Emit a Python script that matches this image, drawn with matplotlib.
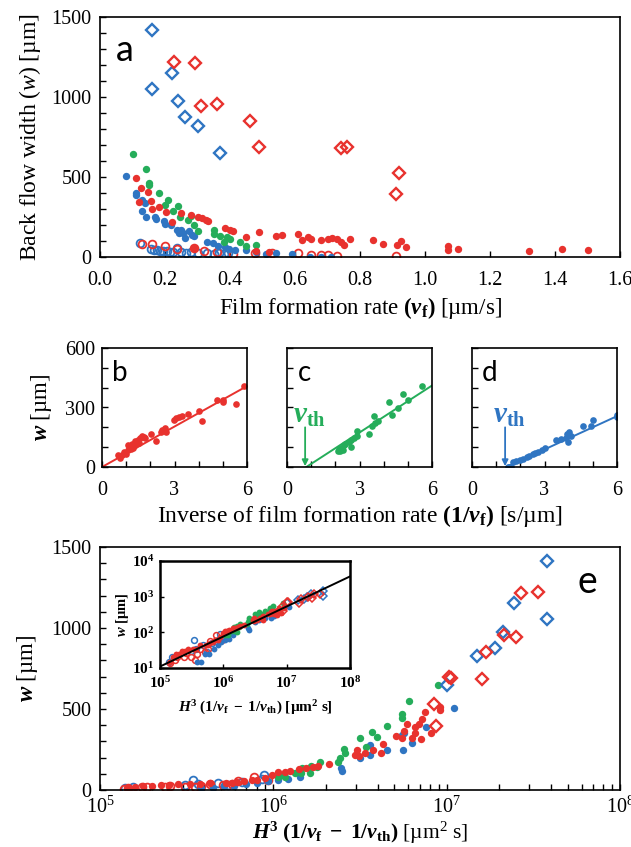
import numpy as np
import matplotlib
matplotlib.use('Agg')
import matplotlib.pyplot as plt
from matplotlib.ticker import MultipleLocator, FixedLocator, LogLocator, NullFormatter, FuncFormatter, NullLocator

plt.rcParams['font.family'] = ['Liberation Serif', 'DejaVu Serif']
plt.rcParams['mathtext.fontset'] = 'custom'
plt.rcParams['mathtext.rm'] = 'Liberation Serif'
plt.rcParams['mathtext.it'] = 'Liberation Serif:italic'
plt.rcParams['mathtext.bf'] = 'Liberation Serif:bold'
plt.rcParams['mathtext.bfit'] = 'Liberation Serif:italic:bold'

RED = '#E8322E'
BLUE = '#2F75C2'
GREEN = '#25AD5A'

# ---------------- Panel a data: film formation rate vf [um/s], width w [um]
a_blue_fill_vf = [0.081, 0.11, 0.11, 0.128, 0.13, 0.137, 0.14, 0.17, 0.172, 0.198, 0.20, 0.218, 0.236, 0.244,
                  0.25, 0.255, 0.26, 0.273, 0.282, 0.29, 0.33, 0.348, 0.364, 0.385, 0.397, 0.416, 0.45, 0.48,
                  0.51, 0.54, 0.59, 0.646, 0.68, 0.71]
a_blue_fill_w = [506, 402, 385, 354, 288, 340, 250, 250, 235, 223, 204, 202, 171, 152,
                 171, 152, 121, 160, 135, 133, 94, 85, 69, 60, 52, 46, 42, 29,
                 21, 23, 21, 0, 0, 0]
a_red_fill_vf = [0.11, 0.127, 0.12, 0.148, 0.158, 0.16, 0.18, 0.203, 0.22, 0.25, 0.28, 0.30, 0.315, 0.325,
                 0.333, 0.385, 0.40, 0.41, 0.45, 0.49, 0.54, 0.56, 0.61, 0.62, 0.64, 0.65, 0.68, 0.70,
                 0.715, 0.73, 0.74, 0.75, 0.77, 0.84, 0.87, 0.913, 0.925, 0.94, 1.07, 1.07, 1.10, 1.32,
                 1.42, 1.50, 0.29, 0.48, 0.52]
a_red_fill_w = [494, 431, 342, 406, 350, 302, 312, 279, 221, 275, 265, 250, 246, 231,
                223, 181, 167, 162, 123, 156, 133, 140, 146, 108, 125, 115, 108, 115,
                117, 113, 96, 77, 110, 104, 83, 77, 100, 62, 69, 46, 50, 37,
                48, 42, 54, 35, 30]
a_green_fill_vf = [0.10, 0.14, 0.15, 0.15, 0.18, 0.20, 0.21, 0.224, 0.24, 0.245, 0.27, 0.28, 0.29, 0.30,
                   0.35, 0.35, 0.37, 0.38, 0.39, 0.40, 0.43, 0.45, 0.48]
a_green_fill_w = [644, 548, 462, 448, 400, 323, 358, 288, 317, 250, 229, 254, 202, 163,
                  171, 146, 131, 94, 125, 113, 96, 69, 73]
a_blue_open_vf = [0.123, 0.157, 0.165, 0.175, 0.185, 0.195, 0.205, 0.215, 0.225, 0.237, 0.25, 0.265, 0.28,
                  0.30, 0.33, 0.35, 0.365, 0.38, 0.395]
a_blue_open_w = [85, 52, 45, 42, 40, 38, 35, 33, 30, 58, 30, 28, 32, 28, 25, 20, 22, 18, 25]
a_red_open_vf = [0.128, 0.16, 0.20, 0.236, 0.29, 0.32, 0.36, 0.41, 0.476, 0.53, 0.61, 0.65, 0.68, 0.70,
                 0.73, 0.91]
a_red_open_w = [81, 81, 67, 52, 58, 37, 31, 21, 27, 25, 25, 15, 15, 13, 8, 8]
a_blue_dia_vf = [0.159, 0.159, 0.22, 0.24, 0.26, 0.30, 0.37]
a_blue_dia_w = [1417, 1050, 1152, 973, 875, 821, 650]
a_red_dia_vf = [0.229, 0.291, 0.311, 0.36, 0.46, 0.49, 0.74, 0.76, 0.92, 0.91]
a_red_dia_w = [1221, 1215, 942, 956, 850, 688, 681, 690, 525, 392]

# ---------------- Panels b-d data: inverse film formation rate 1/vf [s/um], w [um]
b_inv = [0.67, 0.74, 0.81, 0.93, 0.98, 1.07, 1.09, 1.16, 1.21, 1.26, 1.30, 1.35, 1.37, 1.44, 1.49, 1.54,
         1.58, 1.65, 1.72, 1.79, 2.01, 2.22, 2.43, 2.50, 2.61, 2.64, 2.99, 3.06, 3.17, 3.31, 3.55, 4.01,
         4.15, 4.74, 4.99, 5.02, 5.55, 5.86]
b_w = [58, 46, 63, 76, 66, 112, 88, 104, 91, 116, 96, 129, 109, 126, 137, 121,
       145, 154, 149, 145, 165, 132, 175, 187, 195, 178, 235, 248, 253, 256, 269, 281,
       231, 340, 327, 336, 319, 410]
c_inv = [2.10, 2.18, 2.25, 2.35, 2.42, 2.56, 2.66, 2.63, 2.77, 2.89, 2.90, 3.38, 3.50, 3.59, 3.66, 3.75,
         4.20, 4.36, 4.58, 4.78, 5.01, 5.57, 2.14, 2.30]
c_w = [79, 83, 96, 109, 116, 126, 99, 137, 145, 154, 182, 165, 208, 256, 220, 233,
       327, 261, 299, 368, 336, 410, 90, 85]
d_inv = [1.48, 1.55, 1.62, 1.69, 1.84, 1.98, 2.12, 2.26, 2.37, 2.54, 2.61, 2.75, 2.90, 3.04, 3.46, 3.67,
         3.88, 3.95, 4.03, 4.10, 3.98, 4.59, 4.94, 5.01, 6.00, 6.00]
d_w = [0, 0, 0, 24, 29, 36, 39, 52, 57, 65, 73, 78, 85, 98, 138, 143,
       146, 166, 176, 154, 127, 208, 208, 236, 252, 260]
# fitted lines: w = slope * (1/vf - 1/vth)
fit_b_slope, fit_b_inv_th = 68.0, 0.0
fit_c_slope, fit_c_inv_th = 79.0, 0.80
fit_d_slope, fit_d_inv_th = 56.0, 1.42

# ---------------- Panel e data: H^3 (1/vf - 1/vth) [x1e6 um^2 s], w [um]
e_green_fill_x = [8.86, 6.09, 5.55, 5.55, 4.50, 3.70, 3.96, 3.17, 3.43, 2.55, 2.58, 2.44, 2.36, 1.85,
                  1.64, 1.62, 1.47, 1.33, 1.07, 1.12, 1.17, 1.45, 1.78]
e_green_fill_w = [648, 549, 470, 443, 397, 360, 327, 319, 267, 253, 226, 195, 175, 175,
                  150, 103, 137, 107, 82, 92, 82, 107, 144]
e_red_fill_x = [9.1, 9.1, 7.5, 7.2, 6.9, 6.6, 5.9, 5.7, 6.6, 6.3, 7.1, 8.1, 5.1, 5.5, 4.3, 4.2,
                3.75, 3.4, 3.05, 3.1, 2.95, 2.1, 1.8, 1.7, 1.55, 1.40, 1.25, 1.16, 1.07, 0.98, 0.90,
                0.81, 0.75, 0.68, 0.62, 0.58, 0.53, 0.43, 0.376, 0.33, 0.28, 0.25, 0.225, 0.20, 0.177,
                0.159, 0.145]
e_red_fill_w = [514, 494, 483, 436, 407, 391, 407, 366, 354, 319, 313, 350, 333, 319, 284, 226,
                245, 226, 245, 209, 215, 158, 150, 140, 133, 130, 120, 110, 110, 95, 75,
                62, 62, 55, 51, 45, 45, 45, 35, 35, 35, 30, 30, 25, 25,
                20, 15]
e_blue_fill_x = [11.0, 7.6, 5.7, 5.6, 6.3, 4.5, 3.6, 3.15, 2.45, 2.5, 1.43, 1.22, 1.07, 0.93, 0.81,
                 0.70, 0.59, 0.52, 0.45, 0.385, 5.5, 3.6]
e_blue_fill_w = [504, 391, 350, 247, 292, 247, 216, 200, 134, 120, 82, 66, 60, 55, 43,
                 35, 25, 25, 15, 15, 340, 280]
e_red_open_x = [0.138, 0.146, 0.174, 0.186, 0.237, 0.253, 0.309, 0.354, 0.383, 0.431, 0.515, 0.575,
                0.626, 0.936, 0.77]
e_red_open_w = [8, 14, 17, 21, 21, 27, 21, 17, 25, 35, 28, 35, 56, 60, 82]
e_blue_open_x = [0.14, 0.156, 0.346, 0.369, 0.55, 0.657, 0.857, 0.885, 0.477, 0.31]
e_blue_open_w = [15, 21, 62, 35, 28, 49, 66, 90, 45, 30]
e_blue_dia_x = [37.8, 37.8, 24.3, 21.2, 19.0, 14.9, 10.1]
e_blue_dia_w = [1413, 1055, 1152, 977, 874, 827, 648]
e_red_dia_x = [26.7, 33.8, 21.5, 25.1, 16.9, 15.9, 10.3, 10.6, 8.49, 8.69]
e_red_dia_w = [1217, 1220, 956, 942, 853, 683, 695, 690, 529, 395]
# inset power-law fit: w = coef * (X / 1e5) ** exponent
inset_fit_coef, inset_fit_exp = 11.0, 0.842

# ---------------- figure
W, H = 631, 847
fig = plt.figure(figsize=(W / 100, H / 100), dpi=100)


def rect(x0, y0, x1, y1):
    return [x0 / W, 1 - y1 / H, (x1 - x0) / W, (y1 - y0) / H]


def style_frame(ax, lw=1.2):
    for s in ax.spines.values():
        s.set_linewidth(lw)
        s.set_color('black')
    ax.tick_params(which='both', direction='in', top=False, right=False, width=1.0, colors='black')
    ax.tick_params(which='major', length=4)
    ax.tick_params(which='minor', length=4)


def filled(ax, x, y, c, ms=5.3):
    ax.plot(x, y, 'o', color=c, ms=ms, mec='none', ls='none')


def opened(ax, x, y, c, ms=5.6, mew=1.3):
    ax.plot(x, y, 'o', mfc='none', mec=c, ms=ms, mew=mew, ls='none')


def diamond(ax, x, y, c, ms=6.3, mew=1.7):
    ax.plot(x, y, 'D', mfc='none', mec=c, ms=ms, mew=mew, ls='none')


letter_font = dict(family=['Lato', 'DejaVu Sans'], color='black')

# ---- panel a
axa = fig.add_axes(rect(100, 17, 620, 257))
style_frame(axa)
opened(axa, a_blue_open_vf, a_blue_open_w, BLUE)
opened(axa, a_red_open_vf, a_red_open_w, RED)
filled(axa, a_blue_fill_vf, a_blue_fill_w, BLUE)
filled(axa, a_green_fill_vf, a_green_fill_w, GREEN)
filled(axa, a_red_fill_vf, a_red_fill_w, RED)
diamond(axa, a_blue_dia_vf, a_blue_dia_w, BLUE)
diamond(axa, a_red_dia_vf, a_red_dia_w, RED)
axa.set_xlim(0, 1.6)
axa.set_ylim(0, 1500)
axa.xaxis.set_major_locator(MultipleLocator(0.2))
axa.xaxis.set_major_formatter(FuncFormatter(lambda v, p: f'{v:.1f}'))
axa.yaxis.set_major_locator(MultipleLocator(500))
axa.yaxis.set_minor_locator(MultipleLocator(100))
axa.tick_params(labelsize=14.5)
axa.tick_params(axis='x', pad=10)
axa.tick_params(axis='y', pad=6)
axa.set_xlabel(r'$\mathrm{Film\ formation\ rate\ }\mathbf{(}\mathbfit{v}_{\mathbf{f}}\mathbf{)}\ \mathrm{[µm/s]}$',
               fontsize=16.5, labelpad=4)
axa.set_ylabel(r'$\mathrm{Back\ flow\ width\ (}\mathit{w}\mathrm{)\ [µm]}$',
               fontsize=17, labelpad=6)
axa.text(0.048, 0.86, 'a', transform=axa.transAxes, fontsize=26, ha='center', va='center', **letter_font)

# ---- panels b, c, d
panels = [
    (rect(102, 348, 247, 467), b_inv, b_w, RED, fit_b_slope, fit_b_inv_th, 'b', False),
    (rect(287, 348, 432, 467), c_inv, c_w, GREEN, fit_c_slope, fit_c_inv_th, 'c', True),
    (rect(472, 348, 617, 467), d_inv, d_w, BLUE, fit_d_slope, fit_d_inv_th, 'd', True),
]
for i, (r, xs, ys, col, slope, x0, letter, arrow) in enumerate(panels):
    ax = fig.add_axes(r)
    style_frame(ax)
    xl = np.array([x0, 6.0])
    ax.plot(xl, slope * (xl - x0), color=col, lw=1.4)
    filled(ax, xs, ys, col, ms=4.8)
    ax.set_xlim(0, 6)
    ax.set_ylim(0, 600)
    ax.xaxis.set_major_locator(FixedLocator([0, 3, 6]))
    ax.xaxis.set_minor_locator(MultipleLocator(1))
    ax.yaxis.set_major_locator(FixedLocator([0, 300, 600]))
    ax.yaxis.set_minor_locator(MultipleLocator(100))
    ax.tick_params(labelsize=14.5)
    ax.tick_params(axis='x', pad=10)
    ax.tick_params(axis='y', pad=5)
    if i > 0:
        ax.set_yticklabels([])
    else:
        ax.set_ylabel(r'$\mathbfit{w}\ \mathrm{[µm]}$', fontsize=16.5, labelpad=8)
    if i == 1:
        ax.set_xlabel(r'$\mathrm{Inverse\ of\ film\ formation\ rate\ }\mathbf{(1/}\mathbfit{v}_{\mathbf{f}}'
                      r'\mathbf{)}\ \mathrm{[s/µm]}$', fontsize=17, labelpad=2)
    ax.text(0.12, 0.79, letter, transform=ax.transAxes, fontsize=20, ha='center', va='center', **letter_font)
    if arrow:
        xa = x0 - 0.05
        ax.annotate('', xy=(xa, 4), xytext=(xa, 200),
                    arrowprops=dict(arrowstyle='-|>', color=col, lw=1.3, mutation_scale=9,
                                    shrinkA=0, shrinkB=0))
        ax.text(xa + 0.2, 255, r'$\mathbfit{v}_{\mathbf{th}}$', color=col, fontsize=21,
                ha='center', va='center')

# ---- panel e
axe = fig.add_axes(rect(100, 547, 620, 790))
style_frame(axe)
scale = 1e6
series_e = [
    ('open', e_blue_open_x, e_blue_open_w, BLUE),
    ('open', e_red_open_x, e_red_open_w, RED),
    ('fill', e_blue_fill_x, e_blue_fill_w, BLUE),
    ('fill', e_green_fill_x, e_green_fill_w, GREEN),
    ('fill', e_red_fill_x, e_red_fill_w, RED),
    ('dia', e_blue_dia_x, e_blue_dia_w, BLUE),
    ('dia', e_red_dia_x, e_red_dia_w, RED),
]
for kind, xs, ys, col in series_e:
    xv = np.array(xs) * scale
    if kind == 'open':
        opened(axe, xv, ys, col)
    elif kind == 'fill':
        filled(axe, xv, ys, col)
    else:
        diamond(axe, xv, ys, col)
axe.set_xscale('log')
axe.set_xlim(1e5, 1e8)
axe.set_ylim(0, 1500)
axe.yaxis.set_major_locator(MultipleLocator(500))
axe.yaxis.set_minor_locator(MultipleLocator(100))
axe.xaxis.set_major_locator(LogLocator(base=10, numticks=10))
axe.xaxis.set_minor_locator(LogLocator(base=10, subs=np.arange(2, 10), numticks=20))
axe.xaxis.set_minor_formatter(NullFormatter())
axe.xaxis.set_major_formatter(FuncFormatter(lambda v, p: r'$\mathrm{10^{%d}}$' % round(np.log10(v))))
axe.tick_params(labelsize=14.5)
axe.tick_params(axis='x', pad=5)
axe.tick_params(axis='y', pad=6)
axe.set_ylabel(r'$\mathbfit{w}\ \mathrm{[µm]}$', fontsize=16.5, labelpad=8)
axe.set_xlabel(r'$\mathbfit{H}^{\mathbf{3}}\ \mathbf{(1/}\mathbfit{v}_{\mathbf{f}}\mathbf{\ -\ 1/}'
               r'\mathbfit{v}_{\mathbf{th}}\mathbf{)}\ \mathrm{[µm^{2}\ s]}$', fontsize=15.5, labelpad=1)
axe.text(0.937, 0.856, 'e', transform=axe.transAxes, fontsize=27, ha='center', va='center', **letter_font)

# ---- inset
axi = fig.add_axes(rect(160, 561, 350, 668))
for s in axi.spines.values():
    s.set_linewidth(1.8)
axi.tick_params(which='both', direction='in', top=False, right=False, length=3, width=1)
for kind, xs, ys, col in series_e:
    xv = np.array(xs) * scale
    yv = np.array(ys, dtype=float)
    m = yv > 0
    if kind == 'open':
        opened(axi, xv[m], yv[m], col, ms=4.2, mew=1.1)
    elif kind == 'fill':
        filled(axi, xv[m], yv[m], col, ms=4.2)
    else:
        diamond(axi, xv[m], yv[m], col, ms=4.3, mew=1.1)
xf = np.array([1e5, 1e8])
axi.plot(xf, inset_fit_coef * (xf / 1e5) ** inset_fit_exp, color='black', lw=1.4)
axi.set_xscale('log')
axi.set_yscale('log')
axi.set_xlim(1e5, 1e8)
axi.set_ylim(10, 1e4)
axi.xaxis.set_minor_locator(NullLocator())
axi.yaxis.set_minor_locator(NullLocator())
axi.xaxis.set_major_locator(FixedLocator([1e5, 1e6, 1e7, 1e8]))
axi.yaxis.set_major_locator(FixedLocator([1e1, 1e2, 1e3, 1e4]))
fmt = FuncFormatter(lambda v, p: r'$\mathbf{10^{%d}}$' % round(np.log10(v)))
axi.xaxis.set_major_formatter(fmt)
axi.yaxis.set_major_formatter(fmt)
axi.tick_params(labelsize=11)
axi.tick_params(axis='x', pad=5)
axi.tick_params(axis='y', pad=4)
axi.set_ylabel(r'$\mathbfit{w}\ \mathbf{[µm]}$', fontsize=10.5, labelpad=1)
axi.set_xlabel(r'$\mathbfit{H}^{\mathbf{3}}\ \mathbf{(1/}\mathbfit{v}_{\mathbf{f}}\mathbf{\ -\ 1/}'
               r'\mathbfit{v}_{\mathbf{th}}\mathbf{)}\ \mathbf{[µm^{2}\ s]}$', fontsize=11, labelpad=6)

fig.savefig('out.png', dpi=100, facecolor='white')
